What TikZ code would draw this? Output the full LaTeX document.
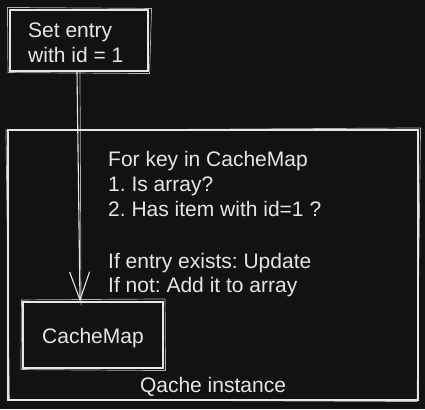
\documentclass[tikz,border=0pt]{standalone}
\usepackage{fontspec}
\setmainfont{Liberation Sans}
\usetikzlibrary{arrows.meta}
\definecolor{canvas}{HTML}{121212}
\definecolor{ink}{HTML}{E6E6E6}
\frenchspacing
\begin{document}
\begin{tikzpicture}[x=1pt,y=-1pt,
  sketch/.style={draw=ink,line width=1.1pt,inner sep=0pt},
  ghost/.style={draw=ink,line width=0.7pt,opacity=0.75},
  label/.style={text=ink,font=\fontsize{21}{25}\selectfont,inner sep=0pt}]
  % canvas
  \fill[canvas] (0,0) rectangle (425,409);
  \useasboundingbox (0,0) rectangle (425,409);

  % outer container
  \node[sketch,minimum width=410pt,minimum height=270pt] (qache) at (213,265) {};
  \draw[ghost] ([shift={(-1.5,1)}]qache.north west) -- ([shift={(2,-1.5)}]qache.north east)
     -- ([shift={(-1.5,1)}]qache.south east) -- ([shift={(2,-1)}]qache.south west) -- cycle;
  \node[label,anchor=base] (qlabel) at (213,392) {Qache instance};

  % request box
  \node[sketch,minimum width=138pt,minimum height=61pt] (setentry) at (79,40.5) {};
  \draw[ghost] ([shift={(-2,-2)}]setentry.north west) -- ([shift={(3,-1)}]setentry.north east)
     -- ([shift={(1,2)}]setentry.south east) -- ([shift={(-1.5,1)}]setentry.south west) -- cycle;
  \node[label,anchor=base west] (set1) at (28,38) {Set entry};
  \node[label,anchor=base west] (set2) at (28,63) {with id = 1};

  % cache map box
  \node[sketch,minimum width=140pt,minimum height=66pt] (cachemap) at (93,335) {};
  \draw[ghost] ([shift={(-1,-1.5)}]cachemap.north west) -- ([shift={(1.5,-2.5)}]cachemap.north east)
     -- ([shift={(2,2)}]cachemap.south east) -- ([shift={(-1.5,1)}]cachemap.south west) -- cycle;
  \node[label,anchor=base] (cmlabel) at (93,343) {CacheMap};

  % arrow from request to cache map
  \draw[draw=ink,line width=1.1pt,-{Straight Barb[length=28pt,width=20pt,line width=1.1pt]}]
     ([xshift=-2pt]setentry.south) -- ([xshift=-13pt]cachemap.north);
  \draw[ghost] ([xshift=1pt]setentry.south) -- ([xshift=-12pt,yshift=-4pt]cachemap.north);

  % lookup steps
  \node[label,anchor=base west] (s1) at (108,166) {For key in CacheMap};
  \node[label,anchor=base west] (s2) at (108,191) {1. Is array?};
  \node[label,anchor=base west] (s3) at (108,216) {2. Has item with id=1 ?};
  \node[label,anchor=base west] (s4) at (108,268) {If entry exists: Update};
  \node[label,anchor=base west] (s5) at (108,292) {If not: Add it to array};
\end{tikzpicture}
\end{document}
